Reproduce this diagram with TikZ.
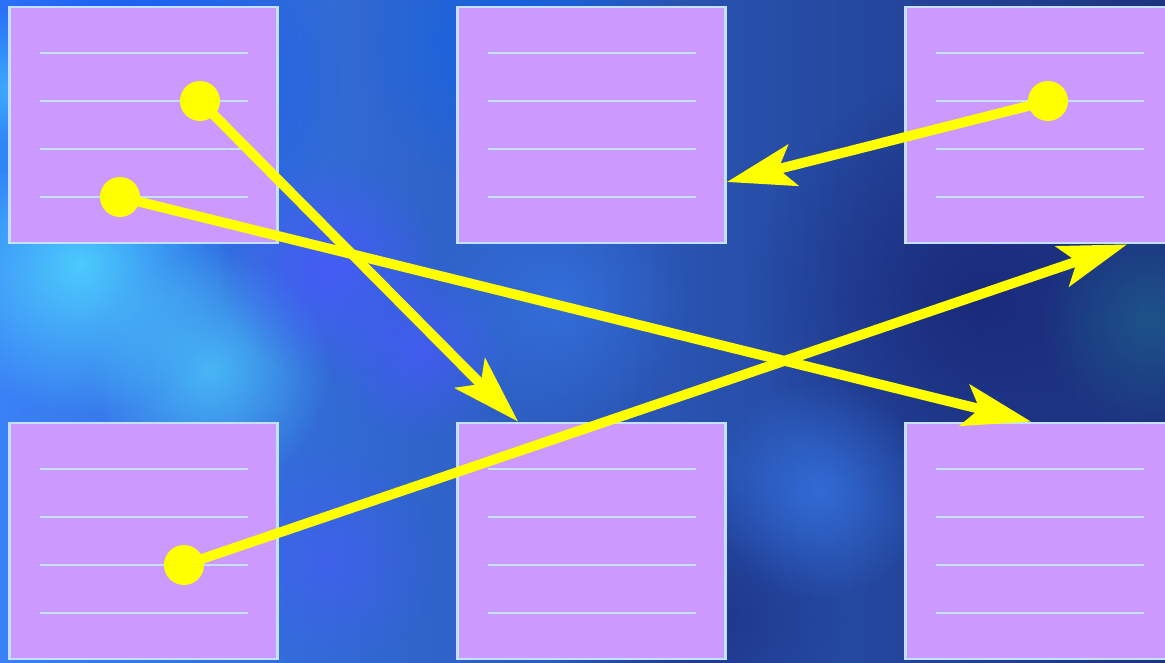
\documentclass[tikz,border=0pt]{standalone}
\usepackage{tikz}
\usetikzlibrary{arrows.meta,positioning,calc,fadings}
\definecolor{cardfill}{HTML}{CC99FF}
\definecolor{cardedge}{HTML}{C4E2FF}
\definecolor{skyA}{HTML}{3A80F6}
\definecolor{skyB}{HTML}{1D3480}
\definecolor{glowC}{HTML}{4FD4FF}
\definecolor{glowV}{HTML}{4A58FF}
\definecolor{deepN}{HTML}{1A2878}
\definecolor{tealN}{HTML}{1E5C8C}
\definecolor{arrowY}{HTML}{FFFF00}
\tikzfading[name=softglow, inner color=transparent!0, outer color=transparent!100]
\tikzset{
  card/.style={draw=cardedge, line width=1.6pt, fill=cardfill,
    minimum width=5.36cm, minimum height=4.72cm, inner sep=0pt},
  rule/.style={draw=cardedge, line width=1.5pt},
  conn/.style={draw=arrowY, line width=5.6pt,
    -{Stealth[length=1.36cm, width=0.84cm, inset=0.3cm]}},
  knob/.style={fill=arrowY},
  glow/.style={path fading=softglow},
}

\begin{document}
\begin{tikzpicture}[x=0.02cm, y=-0.02cm]
    \useasboundingbox (0,0) rectangle (1165,662);
    \clip (0,0) rectangle (1165,662);

    % sky
    \shade[left color=skyA, right color=skyB] (0,0) rectangle (1165,662);
    \fill[glow, blue!70!cyan, opacity=.7] (120,80) circle (220);
    \fill[glow, blue!60!cyan, opacity=.6] (520,40) circle (160);
    \fill[glow, glowC, opacity=.9] (80,265) circle (150);
    \fill[glow, glowC, opacity=.7] (210,370) circle (120);
    \fill[glow, glowC, opacity=.6] (10,90) circle (80);
    \fill[glow, glowV, opacity=.8] (330,270) circle (110);
    \fill[glow, glowV, opacity=.7] (420,350) circle (90);
    \fill[glow, glowV, opacity=.5] (330,560) circle (110);
    \fill[glow, deepN, opacity=.9] (980,300) circle (230);
    \fill[glow, deepN, opacity=.7] (700,620) circle (150);
    \fill[glow, tealN, opacity=.8] (1150,320) circle (110);
    \fill[glow, skyA, opacity=.6] (820,490) circle (110);
    \fill[glow, skyA, opacity=.5] (560,300) circle (130);

    % cards
    \node[card] (tl) at (143.5,125) {};
    \node[card] (tm) at (591.5,125) {};
    \node[card] (tr) at (1039.5,125) {};
    \node[card] (bl) at (143.5,541) {};
    \node[card] (bm) at (591.5,541) {};
    \node[card] (br) at (1039.5,541) {};

    \foreach \c in {tl,tm,tr,bl,bm,br}
      \foreach \r in {-72,-24,24,72}
        \draw[rule] ($(\c.center)+(-104,\r)$) -- ($(\c.center)+(104,\r)$);

    % dots and tips
    \coordinate (d1) at (200,101);
    \coordinate (d2) at (120,197);
    \coordinate (d3) at (1048,101);
    \coordinate (d4) at (184,565);
    \coordinate (t1) at ($(bm.north west)+(62,0)$);
    \coordinate (t2) at ($(br.north west)+(127,0)$);
    \coordinate (t3) at ($(tm.east)+(0,57)$);
    \coordinate (t4) at ($(tr.south west)+(223,0)$);

    \draw[conn] (d1) -- (t1);
    \draw[conn] (d2) -- (t2);
    \draw[conn] (d3) -- (t3);
    \draw[conn] (d4) -- (t4);
    \foreach \d in {d1,d2,d3,d4}
      \fill[knob] (\d) circle (0.4cm);
\end{tikzpicture}
\end{document}
